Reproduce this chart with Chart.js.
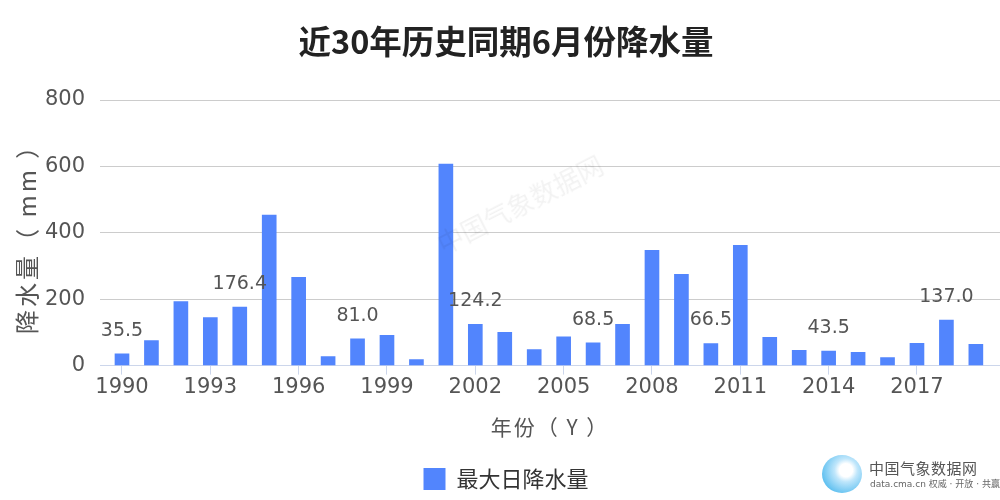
<!DOCTYPE html>
<html>
<head>
<meta charset="utf-8">
<script src="https://cdn.jsdelivr.net/npm/chart.js@4.4.1/dist/chart.umd.min.js"></script>
<style>
  body { margin: 0; background: #fff; }
  #wrap { position: relative; width: 1000px; height: 500px; overflow: hidden; }
  .wm { position: absolute; left: 430px; top: 228px; font: 26px "Noto Sans CJK SC"; color: rgba(0,0,0,0.05);
        transform: rotate(-27deg); transform-origin: left top; white-space: nowrap; }
  .logo-ball { position: absolute; left: 822px; top: 455px; width: 40px; height: 38px; border-radius: 50%;
        background: radial-gradient(circle at 60% 40%, #ffffff 0 20%, #bfe6fb 35%, #5fc0f0 75%, #d9f1fc 100%); }
  .logo-t1 { position: absolute; left: 869px; top: 457px; font: 15px "Noto Sans CJK SC"; color: #555; letter-spacing: 0.5px; }
  .logo-t2 { position: absolute; left: 870px; top: 477px; font: 9px "DejaVu Sans", "Noto Sans CJK SC"; color: #666; }
</style>
</head>
<body>
<div id="wrap">
  <canvas id="c" width="1000" height="500"></canvas>
  <div class="wm">中国气象数据网</div>
  <div class="logo-ball"></div>
  <div class="logo-t1">中国气象数据网</div>
  <div class="logo-t2">data.cma.cn 权威 · 开放 · 共赢</div>
</div>
<script>
// 1990-2019 June max daily rainfall (mm)
const years = [1990, 1991, 1992, 1993, 1994, 1995, 1996, 1997, 1998, 1999,
               2000, 2001, 2002, 2003, 2004, 2005, 2006, 2007, 2008, 2009,
               2010, 2011, 2012, 2013, 2014, 2015, 2016, 2017, 2018, 2019];
const rain = [35.5, 75, 193, 145, 176.4, 453, 266, 27, 81.0, 91,
              18, 607, 124.2, 100, 48, 87, 68.5, 124, 347, 275,
              66.5, 362, 85, 46, 43.5, 40, 24, 67, 137.0, 64];
const xTickYears = [1990, 1993, 1996, 1999, 2002, 2005, 2008, 2011, 2014, 2017];
const yTicks = [0, 200, 400, 600, 800];
const labelEvery = 4;

const cjk = '"Noto Sans CJK SC", "DejaVu Sans", sans-serif';
const latin = '"DejaVu Sans", "Noto Sans CJK SC", sans-serif';

// value labels above every 4th bar
const barLabels = {
  id: 'barLabels',
  afterDatasetsDraw(chart) {
    const ctx = chart.ctx;
    const meta = chart.getDatasetMeta(0);
    ctx.save();
    ctx.font = '19px ' + latin;
    ctx.fillStyle = '#555';
    ctx.textAlign = 'center';
    ctx.textBaseline = 'middle';
    meta.data.forEach((bar, i) => {
      if (i % labelEvery !== 0) return;
      ctx.fillText(rain[i].toFixed(1), bar.x, bar.y - 23);
    });
    ctx.restore();
  }
};

// axis titles in the original are letter-spaced
const spacedTitles = {
  id: 'spacedTitles',
  afterLayout(chart) {
    [['y', '3px'], ['x', '2px']].forEach(([id, sp]) => {
      const s = chart.scales[id];
      if (!s || s._spaced) return;
      const orig = s.drawTitle.bind(s);
      s.drawTitle = function () {
        const c = this.ctx;
        const prev = c.letterSpacing;
        c.letterSpacing = sp;
        orig();
        c.letterSpacing = prev;
      };
      s._spaced = true;
    });
  }
};

new Chart(document.getElementById('c'), {
  type: 'bar',
  data: {
    datasets: [{
      label: '最大日降水量',
      data: years.map((y, i) => ({ x: y, y: rain[i] })),
      backgroundColor: '#5285fd',
      barThickness: 14
    }]
  },
  plugins: [barLabels, spacedTitles],
  options: {
    responsive: false,
    animation: false,
    layout: { padding: { left: 12, right: 0, top: 0, bottom: 0 } },
    plugins: {
      title: {
        display: true,
        text: '近30年历史同期6月份降水量',
        color: '#222',
        font: { family: cjk, size: 32.5, weight: 'bold' },
        padding: { top: 22, bottom: 39 }
      },
      legend: {
        position: 'bottom',
        labels: {
          boxWidth: 22, boxHeight: 22,
          color: '#333',
          font: { family: cjk, size: 22 },
          padding: 10
        }
      },
      tooltip: { enabled: false }
    },
    scales: {
      x: {
        type: 'linear',
        offset: false,
        min: 1989.253,
        max: 2019.82,
        afterBuildTicks: (s) => { s.ticks = xTickYears.map(v => ({ value: v })); },
        ticks: {
          color: '#555',
          font: { family: latin, size: 21 },
          padding: 0,
          maxRotation: 0,
          autoSkip: false,
          callback: (v) => String(v)
        },
        grid: { offset: false, drawOnChartArea: false, drawTicks: true, tickLength: 9, color: '#ccd6eb' },
        border: { color: '#ccd6eb' },
        title: {
          display: true, text: '年份（ Y ）', color: '#555',
          font: { family: cjk, size: 21 },
          padding: { top: 15, bottom: 18 }
        }
      },
      y: {
        min: 0, max: 800,
        afterBuildTicks: (s) => { s.ticks = yTicks.map(v => ({ value: v })); },
        afterFit: (s) => { s.width = 88; },
        ticks: {
          color: '#555',
          font: { family: latin, size: 21 },
          padding: 15
        },
        grid: { color: '#cccccc', drawTicks: false },
        border: { display: false },
        title: {
          display: true, text: '降水量（ mm ）', color: '#555',
          font: { family: cjk, size: 24 },
          padding: { top: 0, bottom: 4 }
        }
      }
    }
  }
});
</script>
</body>
</html>
